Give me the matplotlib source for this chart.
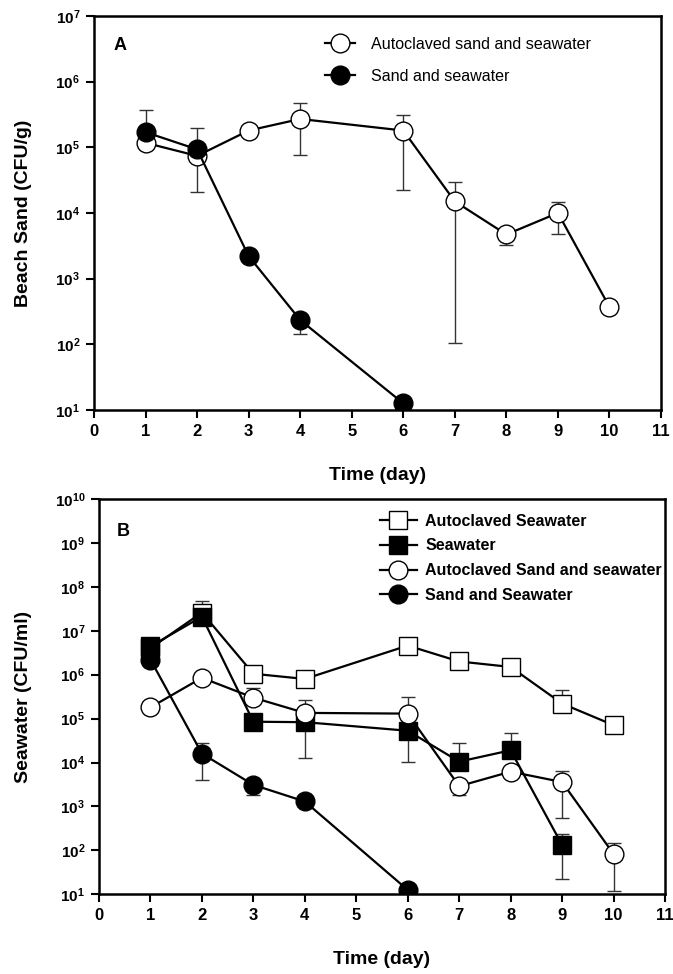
import numpy as np
import matplotlib
matplotlib.use("Agg")
import matplotlib.pyplot as plt
from matplotlib.ticker import FixedLocator, FixedFormatter, NullLocator

plt.rcParams["font.family"] = ["Liberation Sans", "DejaVu Sans"]
plt.rcParams["mathtext.fontset"] = "custom"
plt.rcParams["mathtext.rm"] = "Liberation Sans:bold"
plt.rcParams["mathtext.bf"] = "Liberation Sans:bold"

# ---- panel A: beach sand (CFU/g) ----
a_auto_days = [1, 2, 3, 4, 6, 7, 8, 9, 10]
a_auto_mean = [1.17e5, 7.4e4, 1.8e5, 2.7e5, 1.8e5, 1.5e4, 4.7e3, 1.0e4, 370]
a_auto_low = [1.17e5, 2.1e4, 1.8e5, 7.6e4, 2.2e4, 106, 3.2e3, 4.7e3, 370]
a_auto_high = [1.17e5, 7.4e4, 1.8e5, 4.7e5, 3.1e5, 2.95e4, 4.7e3, 1.48e4, 370]

a_sand_days = [1, 2, 3, 4, 6]
a_sand_mean = [1.7e5, 9.3e4, 2.2e3, 2.34e2, 12.6]
a_sand_low = [1.7e5, 9.3e4, 2.2e3, 1.44e2, 12.6]
a_sand_high = [3.7e5, 2.0e5, 2.2e3, 2.34e2, 12.6]

# ---- panel B: seawater (CFU/ml) ----
b_autosw_days = [1, 2, 3, 4, 6, 7, 8, 9, 10]
b_autosw_mean = [4.0e6, 2.6e7, 1.05e6, 8.0e5, 4.6e6, 2.0e6, 1.5e6, 2.2e5, 7.1e4]
b_autosw_low = [4.0e6, 2.6e7, 1.05e6, 8.0e5, 4.6e6, 2.0e6, 1.5e6, 2.2e5, 7.1e4]
b_autosw_high = [4.0e6, 4.8e7, 1.05e6, 8.0e5, 4.6e6, 2.0e6, 1.5e6, 4.4e5, 7.1e4]

b_sw_days = [1, 2, 3, 4, 6, 7, 8, 9]
b_sw_mean = [4.4e6, 2.1e7, 8.5e4, 8.3e4, 5.3e4, 1.05e4, 1.9e4, 133]
b_sw_low = [4.4e6, 2.1e7, 8.5e4, 1.3e4, 1.05e4, 1.05e4, 1.9e4, 22]
b_sw_high = [4.4e6, 2.1e7, 8.5e4, 8.3e4, 3.1e5, 2.8e4, 4.7e4, 232]

b_autosand_days = [1, 2, 3, 4, 6, 7, 8, 9, 10]
b_autosand_mean = [1.8e5, 8.5e5, 3.0e5, 1.35e5, 1.3e5, 2.9e3, 6.2e3, 3.6e3, 83]
b_autosand_low = [1.8e5, 8.5e5, 3.0e5, 1.35e5, 1.3e5, 1.8e3, 6.2e3, 560, 12]
b_autosand_high = [1.8e5, 8.5e5, 5.0e5, 2.6e5, 1.3e5, 2.9e3, 6.2e3, 6.4e3, 146]

b_sand_days = [1, 2, 3, 4, 6]
b_sand_mean = [2.2e6, 1.6e4, 3.1e3, 1.3e3, 12.6]
b_sand_low = [2.2e6, 4.0e3, 1.8e3, 1.3e3, 12.6]
b_sand_high = [2.2e6, 2.8e4, 3.1e3, 1.3e3, 12.6]

day_ticks = list(range(0, 12))
a_exponents = [1, 2, 3, 4, 5, 6, 7]
b_exponents = [1, 2, 3, 4, 5, 6, 7, 8, 9, 10]


def draw_series(ax, days, mean, low, high, marker, face, label, ms):
    mean = np.array(mean)
    yerr = [mean - np.array(low), np.array(high) - mean]
    ax.errorbar(days, mean, yerr=yerr, fmt="none", ecolor="#333333",
                elinewidth=1.0, capsize=4.7, capthick=1.0, zorder=2)
    ax.plot(days, mean, color="black", lw=1.6, marker=marker, ms=ms,
            mfc=face, mec="black", mew=1.0, label=label, zorder=3)


def style_axis(ax, exponents):
    ax.set_yscale("log")
    ax.set_ylim(10 ** exponents[0], 10 ** exponents[-1])
    ax.set_xlim(day_ticks[0], day_ticks[-1])
    ax.yaxis.set_major_locator(FixedLocator([10.0 ** e for e in exponents]))
    ax.yaxis.set_major_formatter(
        FixedFormatter([r"$\mathbf{10^{%d}}$" % e for e in exponents]))
    ax.yaxis.set_minor_locator(NullLocator())
    ax.set_xticks(day_ticks)
    ax.set_xticklabels([str(d) for d in day_ticks], fontweight="bold")
    ax.tick_params(direction="out", length=6, width=1.5, labelsize=11,
                   top=False, right=False, pad=4)
    ax.tick_params(axis="x", labelsize=12)
    for sp in ax.spines.values():
        sp.set_linewidth(1.8)


fig = plt.figure(figsize=(6.73, 9.74), dpi=100)
axA = fig.add_axes([0.1397, 0.5791, 0.8425, 0.4045])
axB = fig.add_axes([0.1471, 0.0818, 0.8410, 0.4059])

# panel A
draw_series(axA, a_auto_days, a_auto_mean, a_auto_low, a_auto_high,
            "o", "white", "Autoclaved sand and seawater", 13.5)
draw_series(axA, a_sand_days, a_sand_mean, a_sand_low, a_sand_high,
            "o", "black", "Sand and seawater", 13.5)
style_axis(axA, a_exponents)
axA.set_xlabel("Time (day)", fontsize=14, fontweight="bold")
axA.set_ylabel("Beach Sand (CFU/g)", fontsize=14, fontweight="bold")
axA.xaxis.set_label_coords(0.5, -0.145)
axA.yaxis.set_label_coords(-0.109, 0.5)
axA.text(0.046, 0.925, "A", transform=axA.transAxes, fontsize=13,
         fontweight="bold", ha="center", va="center")
axA.legend(loc="upper left", bbox_to_anchor=(0.407, 0.9467), frameon=False,
           fontsize=11.6, borderpad=0, borderaxespad=0, handlelength=1.9,
           handletextpad=0.95, labelspacing=1.05)

# panel B
draw_series(axB, b_autosw_days, b_autosw_mean, b_autosw_low, b_autosw_high,
            "s", "white", "Autoclaved Seawater", 13)
draw_series(axB, b_sw_days, b_sw_mean, b_sw_low, b_sw_high,
            "s", "black", "Seawater", 13)
draw_series(axB, b_autosand_days, b_autosand_mean, b_autosand_low,
            b_autosand_high, "o", "white", "Autoclaved Sand and seawater", 13.5)
draw_series(axB, b_sand_days, b_sand_mean, b_sand_low, b_sand_high,
            "o", "black", "Sand and Seawater", 13.5)
style_axis(axB, b_exponents)
axB.set_xlabel("Time (day)", fontsize=14, fontweight="bold")
axB.set_ylabel("Seawater (CFU/ml)", fontsize=14, fontweight="bold")
axB.xaxis.set_label_coords(0.5, -0.144)
axB.yaxis.set_label_coords(-0.118, 0.5)
axB.text(0.042, 0.9165, "B", transform=axB.transAxes, fontsize=13,
         fontweight="bold", ha="center", va="center")
axB.legend(loc="upper left", bbox_to_anchor=(0.4965, 0.9628), frameon=False,
           prop={"size": 11.5, "weight": "bold"}, borderpad=0, borderaxespad=0,
           handlelength=2.3, handletextpad=0.54, labelspacing=0.61)

fig.savefig("out.png", dpi=100)
